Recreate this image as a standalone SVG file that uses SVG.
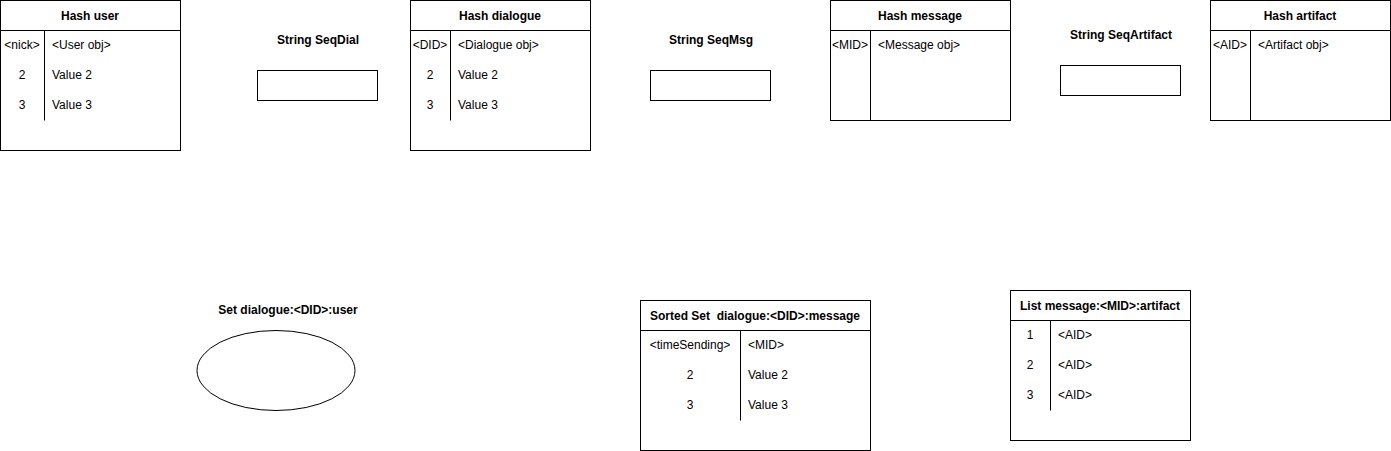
<svg xmlns="http://www.w3.org/2000/svg" width="1391" height="451" viewBox="0 0 1391 451">
<style>
  .box{fill:#fff;stroke:#000;stroke-width:1}
  .ln{stroke:#000;stroke-width:1;fill:none}
  text{font-family:"Liberation Sans",Arial,sans-serif;font-size:12px;fill:#000}
  .h{font-weight:bold;text-anchor:middle}
  .c{text-anchor:middle}
  .l{text-anchor:start}
</style>
<rect width="1391" height="451" fill="#fff"/>
<g id="hash-user">
  <rect class="box" x="0.5" y="0.5" width="180" height="150"/>
  <line class="ln" x1="0.5" y1="30.5" x2="180.5" y2="30.5"/>
  <line class="ln" x1="44.5" y1="30.5" x2="44.5" y2="120.5"/>
  <text class="h" x="90" y="20">Hash user</text>
  <text class="c" x="22" y="49">&lt;nick&gt;</text>
  <text class="l" x="52" y="49">&lt;User obj&gt;</text>
  <text class="c" x="22" y="79">2</text>
  <text class="l" x="52" y="79">Value 2</text>
  <text class="c" x="22" y="109">3</text>
  <text class="l" x="52" y="109">Value 3</text>
</g>
<g id="string-seqdial">
  <text class="h" x="318" y="44">String SeqDial</text>
  <rect class="box" x="257.5" y="70.5" width="120" height="30"/>
</g>
<g id="hash-dialogue">
  <rect class="box" x="410.5" y="0.5" width="180" height="150"/>
  <line class="ln" x1="410.5" y1="30.5" x2="590.5" y2="30.5"/>
  <line class="ln" x1="450.5" y1="30.5" x2="450.5" y2="120.5"/>
  <text class="h" x="500" y="20">Hash dialogue</text>
  <text class="c" x="430" y="49">&lt;DID&gt;</text>
  <text class="l" x="458" y="49">&lt;Dialogue obj&gt;</text>
  <text class="c" x="430" y="79">2</text>
  <text class="l" x="458" y="79">Value 2</text>
  <text class="c" x="430" y="109">3</text>
  <text class="l" x="458" y="109">Value 3</text>
</g>
<g id="string-seqmsg">
  <text class="h" x="711" y="44">String SeqMsg</text>
  <rect class="box" x="650.5" y="70.5" width="120" height="30"/>
</g>
<g id="hash-message">
  <rect class="box" x="830.5" y="0.5" width="180" height="120"/>
  <line class="ln" x1="830.5" y1="30.5" x2="1010.5" y2="30.5"/>
  <line class="ln" x1="870.5" y1="30.5" x2="870.5" y2="120.5"/>
  <text class="h" x="920" y="20">Hash message</text>
  <text class="c" x="850" y="49">&lt;MID&gt;</text>
  <text class="l" x="878" y="49">&lt;Message obj&gt;</text>
</g>
<g id="string-seqartifact">
  <text class="h" x="1121" y="39">String SeqArtifact</text>
  <rect class="box" x="1060.5" y="65.5" width="120" height="30"/>
</g>
<g id="hash-artifact">
  <rect class="box" x="1210.5" y="0.5" width="180" height="120"/>
  <line class="ln" x1="1210.5" y1="30.5" x2="1390.5" y2="30.5"/>
  <line class="ln" x1="1250.5" y1="30.5" x2="1250.5" y2="120.5"/>
  <text class="h" x="1300" y="20">Hash artifact</text>
  <text class="c" x="1230" y="49">&lt;AID&gt;</text>
  <text class="l" x="1258" y="49">&lt;Artifact obj&gt;</text>
</g>
<g id="set-dialogue-user">
  <text class="h" x="288" y="314">Set dialogue:&lt;DID&gt;:user</text>
  <ellipse class="box" cx="276" cy="370.5" rx="79" ry="40"/>
</g>
<g id="sortedset-dialogue-message">
  <rect class="box" x="640.5" y="300.5" width="230" height="150"/>
  <line class="ln" x1="640.5" y1="330.5" x2="870.5" y2="330.5"/>
  <line class="ln" x1="740.5" y1="330.5" x2="740.5" y2="420.5"/>
  <text class="h" x="755" y="320" xml:space="preserve">Sorted Set  dialogue:&lt;DID&gt;:message</text>
  <text class="c" x="690" y="349">&lt;timeSending&gt;</text>
  <text class="l" x="748" y="349">&lt;MID&gt;</text>
  <text class="c" x="690" y="379">2</text>
  <text class="l" x="748" y="379">Value 2</text>
  <text class="c" x="690" y="409">3</text>
  <text class="l" x="748" y="409">Value 3</text>
</g>
<g id="list-message-artifact">
  <rect class="box" x="1010.5" y="290.5" width="180" height="150"/>
  <line class="ln" x1="1010.5" y1="320.5" x2="1190.5" y2="320.5"/>
  <line class="ln" x1="1050.5" y1="320.5" x2="1050.5" y2="410.5"/>
  <text class="h" x="1100" y="310">List message:&lt;MID&gt;:artifact</text>
  <text class="c" x="1030" y="339">1</text>
  <text class="l" x="1058" y="339">&lt;AID&gt;</text>
  <text class="c" x="1030" y="369">2</text>
  <text class="l" x="1058" y="369">&lt;AID&gt;</text>
  <text class="c" x="1030" y="399">3</text>
  <text class="l" x="1058" y="399">&lt;AID&gt;</text>
</g>
<g id="connectors"></g>
</svg>
